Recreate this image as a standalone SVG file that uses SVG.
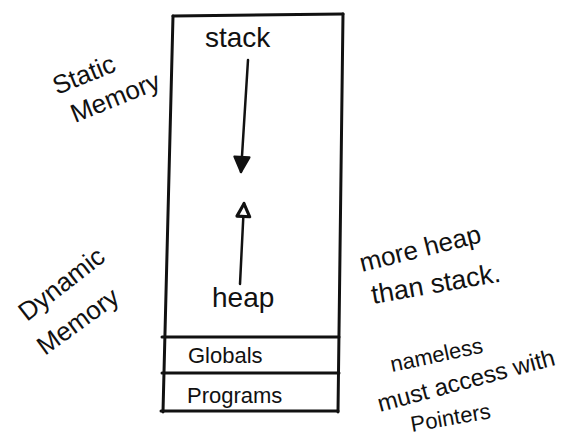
<svg xmlns="http://www.w3.org/2000/svg" width="583" height="446" viewBox="0 0 583 446">
<style>
.t{font-family:"Liberation Sans",Arial,sans-serif;fill:#111;}
.ln{stroke:#111;stroke-width:3;fill:none;stroke-linecap:round;}
.thin{stroke:#111;stroke-width:2.5;fill:none;stroke-linecap:round;}
</style>
<defs>
<marker id="ah" viewBox="0 0 12 12" refX="11" refY="6" markerWidth="18" markerHeight="18" markerUnits="userSpaceOnUse" orient="auto">
<path d="M1,1 L11,6 L1,11 Z" fill="#111" stroke="#111" stroke-width="1.5" stroke-linejoin="round"/>
</marker>
<marker id="ahOpen" viewBox="0 0 12 12" refX="11" refY="6" markerWidth="17" markerHeight="17" markerUnits="userSpaceOnUse" orient="auto">
<path d="M1.5,1.5 L10.5,6 L1.5,10.5 Z" fill="#fff" stroke="#111" stroke-width="2.2" stroke-linejoin="round"/>
</marker>
</defs>
<rect width="583" height="446" fill="#fff"/>
<g id="memory">
<path class="ln" d="M173,16 L343,14"/>
<path class="ln" d="M173,16 L163,412"/>
<path class="ln" d="M343,14 L338,412"/>
<path class="ln" d="M162,337 L339,337"/>
<path class="ln" d="M162,373 L339,373"/>
<path class="ln" d="M161,411 L338,411"/>
</g>
<g id="stack"><text class="t" x="205" y="47" font-size="28">stack</text></g>
<g id="heap"><text class="t" x="212" y="307" font-size="28">heap</text></g>
<g id="globals"><text class="t" x="188" y="363" font-size="22">Globals</text></g>
<g id="programs"><text class="t" x="187" y="403" font-size="22">Programs</text></g>
<g id="connectors">
<path class="thin" d="M248,60 L241,172" marker-end="url(#ah)"/>
<path class="thin" d="M240,284 L244,203" marker-end="url(#ahOpen)"/>
</g>
<g id="static-label">
<text class="t" font-size="26" transform="translate(57,95) rotate(-22)">Static</text>
<text class="t" font-size="26" transform="translate(75,123) rotate(-22)">Memory</text>
</g>
<g id="dynamic-label">
<text class="t" font-size="26" transform="translate(27,322) rotate(-38)">Dynamic</text>
<text class="t" font-size="26" transform="translate(45,356) rotate(-36)">Memory</text>
</g>
<g id="heap-note">
<text class="t" font-size="26" transform="translate(362,272) rotate(-14)">more heap</text>
<text class="t" font-size="27" transform="translate(373,304) rotate(-10)">than stack.</text>
</g>
<g id="nameless-note">
<text class="t" font-size="22" transform="translate(392,372) rotate(-12)">nameless</text>
<text class="t" font-size="24" transform="translate(380,412) rotate(-15)">must access with</text>
<text class="t" font-size="22" transform="translate(412,432) rotate(-10)">Pointers</text>
</g>
</svg>
